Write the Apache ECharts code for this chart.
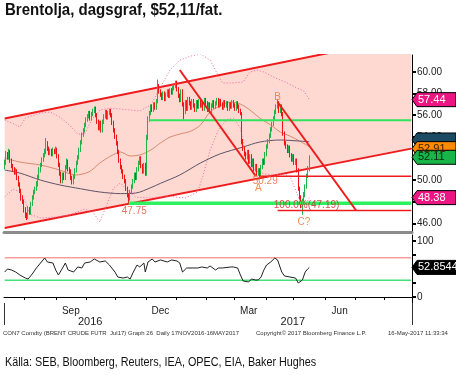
<!DOCTYPE html>
<html><head><meta charset="utf-8">
<script src="https://cdn.jsdelivr.net/npm/echarts@6/dist/echarts.min.js"></script>
<style>html,body{margin:0;padding:0;background:#fff}#c{width:456px;height:375px}</style>
</head><body><div id="c"></div>
<script>
// ---------- categories (trading weekdays) ----------
const firstDay = '2016-07-11', lastDay = '2017-08-28';
function weekdays(a, b) {
  const out = []; const d = new Date(a + 'T00:00:00Z'); const e = new Date(b + 'T00:00:00Z');
  while (d <= e) { const w = d.getUTCDay(); if (w !== 0 && w !== 6) out.push(d.toISOString().slice(0, 10)); d.setUTCDate(d.getUTCDate() + 1); }
  return out;
}
const dates = weekdays(firstDay, lastDay);
const monthLabelDays = ['2016-09-15', '2016-12-15', '2017-03-15', '2017-06-15'];
const monthLabelText = ['Sep', 'Dec', 'Mar', 'Jun'];
const yearLabelDays = ['2016-10-05', '2017-04-28'];
const yearLabelText = ['2016', '2017'];
const yearSplitDay = '2017-01-02';
const priceTicks = [46, 48, 50, 52, 54, 56, 58, 60];
const rsiTicks = [0, 25, 50, 75, 100];
const rsiLabels = [0, 50, 100];

// ---------- daily candles (Brent Jul17 future) ----------
const opens = [
51.2,51.6,52.4,52.1,52.6,51.8,51.3,51.0,50.7,50.9,
50.2,49.6,49.0,48.3,48.0,47.2,46.7,46.5,47.3,47.0,
47.8,48.4,48.9,49.2,49.6,50.3,50.9,51.4,51.9,52.3,
52.6,53.4,52.9,52.5,52.7,52.4,52.8,52.6,52.9,52.2,
51.4,50.6,49.9,50.5,50.2,51.2,51.7,51.0,50.8,50.2,
49.8,50.3,50.9,51.6,52.1,52.8,53.5,54.2,54.6,55.1,
55.6,55.9,56.2,55.7,56.1,56.4,56.6,56.0,55.4,54.8,
55.3,54.6,55.4,55.9,56.3,55.8,56.2,56.4,56.0,55.3,
54.6,54.0,53.4,52.6,51.8,51.2,50.8,50.3,49.9,49.2,
48.6,48.3,48.9,49.4,49.9,50.5,50.2,51.0,51.6,52.0,
51.3,50.8,51.4,50.6,53.9,55.6,56.2,56.8,56.5,57.0,
56.7,57.3,58.6,58.2,57.9,57.6,58.0,57.5,57.9,58.2,
57.8,58.3,58.1,58.5,58.7,59.0,58.4,57.8,57.4,58.2,
57.0,56.3,57.2,56.6,57.5,57.1,56.7,57.3,56.9,56.5,
57.2,56.8,57.3,56.9,57.0,56.6,57.4,57.1,56.5,57.0,
56.4,56.9,57.2,56.8,57.1,57.4,56.9,57.3,57.0,56.7,
57.2,56.9,57.1,56.6,57.0,56.8,57.2,56.9,56.6,57.1,
56.8,56.4,56.2,53.5,52.9,52.4,52.1,52.6,51.7,52.2,
51.4,51.8,51.0,51.3,50.6,50.9,50.5,51.2,51.8,51.6,
52.4,53.1,53.6,54.1,54.7,55.2,55.7,56.3,56.8,57.1,
56.4,56.8,56.1,54.3,53.4,53.1,52.7,53.0,52.3,51.9,
52.2,51.6,51.8,50.9,49.2,48.4,47.4,48.0,48.6,49.4,
50.4,51.0];
const closes = [
51.6,52.4,52.1,52.6,51.8,51.3,51.0,50.7,50.9,50.2,
49.6,49.0,48.3,48.0,47.2,46.7,46.5,47.3,47.0,47.8,
48.4,48.9,49.2,49.6,50.3,50.9,51.4,51.9,52.3,52.6,
53.4,52.9,52.5,52.7,52.4,52.8,52.6,52.9,52.2,51.4,
50.6,49.9,50.5,50.2,51.2,51.7,51.0,50.8,50.2,49.8,
50.3,50.9,51.6,52.1,52.8,53.5,54.2,54.6,55.1,55.6,
55.9,56.2,55.7,56.1,56.4,56.6,56.0,55.4,54.8,55.3,
54.6,55.4,55.9,56.3,55.8,56.2,56.4,56.0,55.3,54.6,
54.0,53.4,52.6,51.8,51.2,50.8,50.3,49.9,49.2,48.6,
48.3,48.9,49.4,49.9,50.5,50.2,51.0,51.6,52.0,51.3,
50.8,51.4,50.6,53.9,55.6,56.2,56.8,56.5,57.0,56.7,
57.3,58.6,58.2,57.9,57.6,58.0,57.5,57.9,58.2,57.8,
58.3,58.1,58.5,58.7,59.0,58.4,57.8,57.4,58.2,57.0,
56.3,57.2,56.6,57.5,57.1,56.7,57.3,56.9,56.5,57.2,
56.8,57.3,56.9,57.0,56.6,57.4,57.1,56.5,57.0,56.4,
56.9,57.2,56.8,57.1,57.4,56.9,57.3,57.0,56.7,57.2,
56.9,57.1,56.6,57.0,56.8,57.2,56.9,56.6,57.1,56.8,
56.4,56.2,53.5,52.9,52.4,52.1,52.6,51.7,52.2,51.4,
51.8,51.0,51.3,50.6,50.9,50.5,51.2,51.8,51.6,52.4,
53.1,53.6,54.1,54.7,55.2,55.7,56.3,56.8,57.1,56.4,
56.8,56.1,54.3,53.4,53.1,52.7,53.0,52.3,51.9,52.2,
51.6,51.8,50.9,49.2,48.4,47.6,48.0,48.6,49.4,50.4,
51.0,52.11];
const lows = [
51.0,51.4,51.9,51.9,51.6,51.1,50.8,50.5,50.5,50.0,
49.4,48.8,48.1,47.8,47.0,46.5,46.3,46.4,46.8,46.8,
47.6,48.2,48.7,49.0,49.4,50.1,50.7,51.2,51.7,52.1,
52.4,52.7,52.3,52.3,52.2,52.2,52.4,52.4,52.0,51.2,
50.4,49.7,49.7,50.0,50.0,51.0,50.8,50.6,50.0,49.6,
49.6,50.1,50.7,51.4,51.9,52.6,53.3,54.0,54.4,54.9,
55.4,55.7,55.5,55.5,55.9,56.2,55.8,55.2,54.6,54.6,
54.4,54.4,55.2,55.7,55.6,55.6,56.0,55.8,55.1,54.4,
53.8,53.2,52.4,51.6,51.0,50.6,50.1,49.7,49.0,48.4,
47.75,48.1,48.7,49.2,49.7,50.0,50.0,50.8,51.4,51.1,
50.6,50.6,50.4,50.4,53.7,55.4,56.0,56.3,56.3,56.5,
56.5,57.1,58.0,57.7,57.4,57.4,57.3,57.3,57.7,57.6,
57.6,57.9,57.9,58.3,58.5,58.2,57.6,57.2,57.2,56.8,
55.6,56.1,56.4,56.4,56.9,56.5,56.5,56.7,56.3,56.3,
56.6,56.6,56.7,56.7,56.4,56.4,56.9,56.3,56.3,56.2,
56.2,56.7,56.6,56.6,56.9,56.7,56.7,56.8,56.5,56.5,
56.7,56.7,56.4,56.4,56.6,56.6,56.7,56.4,56.4,56.6,
56.2,56.0,53.3,52.7,52.2,51.9,51.9,51.5,51.5,51.2,
51.2,50.8,50.8,50.4,50.4,50.29,50.3,51.0,51.4,51.4,
52.2,52.9,53.4,53.9,54.5,55.0,55.5,56.1,56.6,56.2,
56.2,55.9,54.1,53.2,52.9,52.5,52.5,52.1,51.7,51.7,
51.4,51.4,50.7,49.0,48.2,47.4,46.8,47.8,48.4,49.2,
50.2,50.8];
const highs = [
51.9,52.7,52.6,52.9,52.8,52.0,51.5,51.2,51.1,51.0,
50.4,49.8,49.2,48.6,48.2,47.5,47.0,47.6,47.5,48.0,
48.6,49.1,49.4,49.9,50.5,51.2,51.6,52.1,52.5,52.9,
53.9,53.6,53.1,52.9,52.9,53.0,52.9,53.1,53.0,52.4,
51.6,50.8,50.7,50.7,51.4,52.0,51.9,51.2,51.0,50.4,
50.5,51.1,51.8,52.3,53.0,53.7,54.4,54.8,55.3,55.8,
56.1,56.4,56.4,56.3,56.6,56.8,56.8,56.2,55.6,55.5,
55.5,55.6,56.1,56.5,56.5,56.4,56.6,56.6,56.2,55.5,
54.8,54.2,53.6,52.8,52.0,51.4,51.0,50.5,50.1,49.4,
48.8,49.1,49.6,50.1,50.7,50.7,51.2,51.8,52.2,52.2,
51.5,51.6,51.6,54.2,55.9,56.4,57.0,57.0,57.2,57.2,
57.5,59.3,58.9,58.4,58.1,58.2,58.2,58.1,58.4,58.4,
58.5,58.5,58.7,58.9,59.2,59.2,58.6,58.0,58.4,58.4,
57.2,57.4,57.4,57.7,57.7,57.3,57.5,57.5,57.1,57.4,
57.4,57.5,57.5,57.2,57.2,57.6,57.6,57.3,57.2,57.2,
57.1,57.4,57.4,57.3,57.6,57.6,57.5,57.5,57.2,57.4,
57.4,57.3,57.3,57.2,57.2,57.4,57.4,57.1,57.3,57.3,
57.0,56.6,56.3,53.8,53.1,52.6,52.8,52.8,52.4,52.4,
52.0,52.0,51.5,51.5,51.1,51.1,51.4,52.0,52.0,52.6,
53.3,53.8,54.3,54.9,55.4,55.9,56.5,57.0,57.5,57.3,
57.0,57.0,56.3,54.5,53.6,53.3,53.2,53.2,52.5,52.4,
52.4,52.0,52.0,51.1,49.4,48.6,48.3,48.9,49.6,50.6,
51.3,52.3];

// ---------- indicator lines, [trading-day index, value] ----------
const ma50 = [[0,52.04],[11,51.67],[26,51.39],[40,50.93],[51,50.47],[61,50.75],[69,51.58],[77,52.23],[84,52.6],[91,52.23],[98,52.32],[106,52.78],[113,53.43],[120,53.98],[127,54.26],[135,54.53],[142,55.09],[149,56.3],[156,56.85],[164,57.22],[171,57.03],[178,56.48],[185,55.74],[193,55.09],[200,54.44],[207,54.07],[214,53.61],[221,53.1]];
const ma200 = [[0,50.93],[11,50.65],[26,50.0],[40,49.55],[55,49.2],[69,48.9],[84,48.75],[95,48.8],[106,49.3],[113,49.7],[127,50.47],[142,51.58],[156,52.41],[173,53.06],[185,53.52],[200,53.71],[214,53.61],[221,53.55]];
const bbUpper = [[0,55.56],[7,55.18],[11,54.9],[15,55.74],[26,56.2],[33,56.3],[40,55.83],[47,55.09],[53,54.26],[58,54.26],[63,55.56],[69,56.48],[77,56.66],[84,56.57],[91,56.48],[98,56.39],[106,56.94],[113,58.6],[120,60.18],[127,61.1],[135,61.47],[142,61.66],[149,61.1],[154,59.9],[158,58.98],[165,58.98],[173,59.07],[178,60.0],[183,60.18],[188,60.0],[195,59.53],[205,58.98],[212,58.52],[217,58.24],[221,57.44]];
const bbLower = [[0,48.43],[6,49.17],[11,48.9],[15,47.97],[18,46.86],[26,46.49],[37,46.58],[47,46.77],[58,47.32],[64,47.05],[69,46.12],[74,47.69],[79,49.27],[84,49.73],[89,49.08],[95,48.43],[106,48.34],[116,48.53],[131,48.34],[140,48.9],[144,50.47],[149,52.78],[155,54.63],[161,55.56],[166,55.74],[171,54.81],[174,52.78],[180,51.12],[185,50.65],[193,50.47],[202,50.56],[207,50.37],[211,49.08],[214,48.16],[218,47.69],[221,48.38]];
const rsi = [[0,44.6],[2,50],[5,48.2],[8,44.6],[11,39.3],[15,33.9],[17,32.1],[20,41.1],[23,51.8],[26,60.7],[29,69.6],[31,62.5],[35,60.7],[37,48.2],[39,39.3],[42,51.8],[44,60.7],[46,48.2],[50,44.6],[53,53.6],[56,51.8],[58,60.7],[62,62.5],[65,67.9],[69,62.5],[73,64.3],[76,57.1],[80,44.6],[82,35.7],[86,33.9],[89,35.7],[91,32.1],[93,42.9],[96,57.1],[98,53.6],[101,60.7],[102,44.6],[104,62.5],[107,67.9],[109,62.5],[113,66.1],[118,62.5],[121,66.1],[125,64.3],[127,60.7],[129,44.6],[132,51.8],[136,51.8],[140,51.8],[143,53.6],[147,51.8],[149,55.4],[153,48.2],[155,51.8],[158,51.8],[164,53.6],[166,53.6],[169,51.8],[171,39.3],[173,28.6],[177,26.8],[179,32.1],[182,30.4],[184,30.4],[186,35.7],[188,48],[190,57.1],[193,62.5],[196,69.6],[198,66.1],[201,44.6],[203,37.5],[207,35.7],[211,33.9],[213,25],[216,30.4],[218,44.6],[220,50.5],[221,52.85]];

// ---------- drawn annotations ----------
const channelIdx = [0, 295];
const channelLow = [45.57, 52.91];
const channelHigh = [55.7, 63.3];
const greenUpper = {from: 105, to: 295, value: 55.53};
const greenLower = {from: 90, to: 295, value: 47.87};
const redSupportA = {from: 185, to: 295, value: 50.35};
const redFib = {from: 198, to: 295, value: 47.19};
const trendDec = [[127, 60.18], [182, 50.4]];
const trendB = [[198, 57.22], [255, 47.19]];
const rsiHigh = 70, rsiLow = 30;
const annoText = ['47.75', '50.29', 'A', 'B', 'C?', '100.0%(47.19)'];
const annoIdx = [94, 189, 184, 198, 217, 219];
const annoPrice = [47.15, 49.9, 49.25, 57.65, 46.1, 47.68];
const annoColor = ['#e8503a', '#e8603a', '#f07030', '#f07030', '#f07030', '#d02020'];
const tagValues = [57.44, 53.71, 52.91, 52.11, 48.38];
const tagText = ['57.44', '', '52.91', '52.11', '48.38'];
const tagFill = ['#ec1582', '#1d4a63', '#ff8a00', '#18b548', '#ec1582'];
const tagInk = ['#fff', '#fff', '#3a2000', '#062a10', '#fff'];
const rsiLast = 52.8544;

const FONT = "'Liberation Sans', Arial, sans-serif";

const chart = echarts.init(document.getElementById('c'), null, {renderer: 'canvas'});
const monthStarts = dates.map((d, i) => i > 0 && d.slice(5, 7) !== dates[i - 1].slice(5, 7));

function hline(o, color, width, z) {
  return {type: 'line', xAxisIndex: 0, yAxisIndex: 0, data: [[o.from, o.value], [o.to, o.value]], symbol: 'none', silent: true,
    lineStyle: {color: color, width: width}, z: z};
}

const option = {
  animation: false,
  backgroundColor: '#fff',
  grid: [
    {left: 4, right: 44, top: 55, height: 177, outerBoundsMode: 'none'},
    {left: 4, right: 44, top: 235, height: 68, outerBoundsMode: 'none'}
  ],
  xAxis: [
    {type: 'category', gridIndex: 0, data: dates, boundaryGap: true,
      axisLine: {show: true, lineStyle: {color: '#8c8c8c', width: 3}}, axisTick: {show: false}, axisLabel: {show: false}, splitLine: {show: false}},
    {type: 'category', gridIndex: 1, data: dates, boundaryGap: true, position: 'bottom',
      axisLine: {show: true, lineStyle: {color: '#000', width: 1}},
      axisTick: {show: true, interval: (i) => monthStarts[i], length: 3, lineStyle: {color: '#000'}},
      axisLabel: {interval: (i, v) => monthLabelDays.includes(v), formatter: v => monthLabelText[monthLabelDays.indexOf(v)] || '',
        margin: 3, fontSize: 10, color: '#222', fontFamily: FONT}, splitLine: {show: false}},
    {type: 'category', gridIndex: 1, data: dates, boundaryGap: true, position: 'bottom', offset: 0,
      axisLine: {show: false},
      axisTick: {show: true, interval: (i, v) => v === yearSplitDay, length: 22, lineStyle: {color: '#333'}},
      axisLabel: {interval: (i, v) => yearLabelDays.includes(v), formatter: v => yearLabelText[yearLabelDays.indexOf(v)] || '',
        margin: 13, fontSize: 11, color: '#222', fontFamily: FONT}, splitLine: {show: false}}
  ],
  yAxis: [
    {type: 'value', gridIndex: 0, position: 'right', min: 45.2, max: 61.57, scale: true,
      axisLine: {show: true, lineStyle: {color: '#000', width: 1}},
      axisTick: {show: true, customValues: priceTicks, length: 4, lineStyle: {color: '#000', width: 2}},
      axisLabel: {customValues: priceTicks, formatter: v => v.toFixed(2), margin: 5, fontSize: 10, color: '#222', fontFamily: FONT},
      splitLine: {show: false}},
    {type: 'value', gridIndex: 1, position: 'right', min: -10.7, max: 110.7,
      axisLine: {show: true, lineStyle: {color: '#000', width: 1}},
      axisTick: {show: true, customValues: rsiTicks, length: 4, lineStyle: {color: '#000', width: 2}},
      axisLabel: {customValues: rsiLabels, margin: 5, fontSize: 10, color: '#222', fontFamily: FONT},
      splitLine: {show: false}}
  ],
  series: [
    {type: 'line', name: 'chLow', xAxisIndex: 0, yAxisIndex: 0, stack: 'ch', symbol: 'none', silent: true,
      data: channelIdx.map((x, i) => [x, channelLow[i]]), lineStyle: {color: '#ee1c1c', width: 2}, z: 1},
    {type: 'line', name: 'chHigh', xAxisIndex: 0, yAxisIndex: 0, stack: 'ch', symbol: 'none', silent: true,
      data: channelIdx.map((x, i) => [x, channelHigh[i] - channelLow[i]]), lineStyle: {color: '#ee1c1c', width: 2},
      areaStyle: {color: '#fdd9d2', opacity: 1}, z: 1},
    {type: 'line', xAxisIndex: 0, yAxisIndex: 0, data: bbUpper, symbol: 'none', silent: true, lineStyle: {color: '#f26a9e', width: 1, type: [1, 2]}, z: 2},
    {type: 'line', xAxisIndex: 0, yAxisIndex: 0, data: bbLower, symbol: 'none', silent: true, lineStyle: {color: '#f26a9e', width: 1, type: [1, 2]}, z: 2},
    {type: 'line', xAxisIndex: 0, yAxisIndex: 0, data: ma50, symbol: 'none', smooth: 0.3, silent: true, lineStyle: {color: '#d98a6c', width: 1}, z: 2},
    {type: 'line', xAxisIndex: 0, yAxisIndex: 0, data: ma200, symbol: 'none', smooth: 0.3, silent: true, lineStyle: {color: '#5e5468', width: 1}, z: 2},
    {type: 'candlestick', xAxisIndex: 0, yAxisIndex: 0, barWidth: 1.2, silent: true,
      data: closes.map((c, i) => [opens[i], c, lows[i], highs[i]]),
      itemStyle: {color: '#22b24a', color0: '#f01414', borderColor: '#22b24a', borderColor0: '#f01414', borderWidth: 1}, z: 3},
    hline(greenUpper, '#2fe35d', 2, 4),
    hline(greenLower, '#2ff060', 3.5, 4),
    hline(redSupportA, '#ee1c1c', 1.5, 4),
    hline(redFib, '#ee1c1c', 1.5, 4),
    {type: 'line', xAxisIndex: 0, yAxisIndex: 0, data: trendDec, symbol: 'none', silent: true, lineStyle: {color: '#ee1c1c', width: 2}, z: 4},
    {type: 'line', xAxisIndex: 0, yAxisIndex: 0, data: trendB, symbol: 'none', silent: true, lineStyle: {color: '#ee1c1c', width: 2}, z: 4},
    {type: 'scatter', xAxisIndex: 0, yAxisIndex: 0, symbolSize: 0, silent: true, z: 5,
      data: annoText.map((t, i) => ({value: [annoIdx[i], annoPrice[i]],
        label: {show: true, position: 'inside', formatter: t, color: annoColor[i], fontSize: 10, fontFamily: FONT}}))},
    {type: 'line', xAxisIndex: 1, yAxisIndex: 1, data: [[0, rsiHigh], [295, rsiHigh]], symbol: 'none', silent: true, lineStyle: {color: '#f07272', width: 1}},
    {type: 'line', xAxisIndex: 1, yAxisIndex: 1, data: [[0, rsiLow], [295, rsiLow]], symbol: 'none', silent: true, lineStyle: {color: '#46e07a', width: 1.5}},
    {type: 'line', xAxisIndex: 1, yAxisIndex: 1, data: rsi, symbol: 'none', silent: true, lineStyle: {color: '#222', width: 1}}
  ]
};
chart.setOption(option);

// value tags on the right axis, positioned through the axis scales
const axisX = 456 - 44;
const graphics = [];
function tag(v, text, fill, ink, yAxisIndex) {
  const y = chart.convertToPixel({yAxisIndex: yAxisIndex}, v);
  graphics.push({type: 'polygon', z: 100, shape: {points: [[axisX, y], [axisX + 5, y - 7], [456, y - 7], [456, y + 7], [axisX + 5, y + 7]]},
    style: {fill: fill, stroke: '#000', lineWidth: 1}});
  if (text) graphics.push({type: 'text', z: 101, x: axisX + 6, y: y, style: {text: text, fill: ink, font: '11px ' + FONT, textVerticalAlign: 'middle'}});
}
tagValues.forEach((v, i) => tag(v, tagText[i], tagFill[i], tagInk[i], 0));
tag(rsiLast, rsiLast.toFixed(4), '#000', '#fff', 1);
// title and texts (condensed horizontally like the original narrow typeface)
graphics.push({type: 'text', x: 5, y: 2, scaleX: 0.885, style: {text: 'Brentolja, dagsgraf, $52,11/fat.', fill: '#111', font: 'bold 17px ' + FONT, verticalAlign: 'top'}});
graphics.push({type: 'text', x: 3, y: 330, style: {text: 'CON7 Comdty (BRENT CRUDE FUTR  Jul17) Graph 26  Daily 17NOV2016-16MAY2017', fill: '#333', font: '6px ' + FONT}});
graphics.push({type: 'text', x: 256, y: 330, style: {text: 'Copyright\u00a9 2017 Bloomberg Finance L.P.', fill: '#333', font: '6px ' + FONT}});
graphics.push({type: 'text', x: 388, y: 330, style: {text: '16-May-2017 11:33:34', fill: '#333', font: '6px ' + FONT}});
graphics.push({type: 'text', x: 5, y: 356, scaleX: 0.83, style: {text: 'K\u00e4lla: SEB, Bloomberg, Reuters, IEA, OPEC, EIA, Baker Hughes', fill: '#111', font: '13px ' + FONT, verticalAlign: 'top'}});
chart.setOption({graphic: graphics});
</script>
</body></html>
